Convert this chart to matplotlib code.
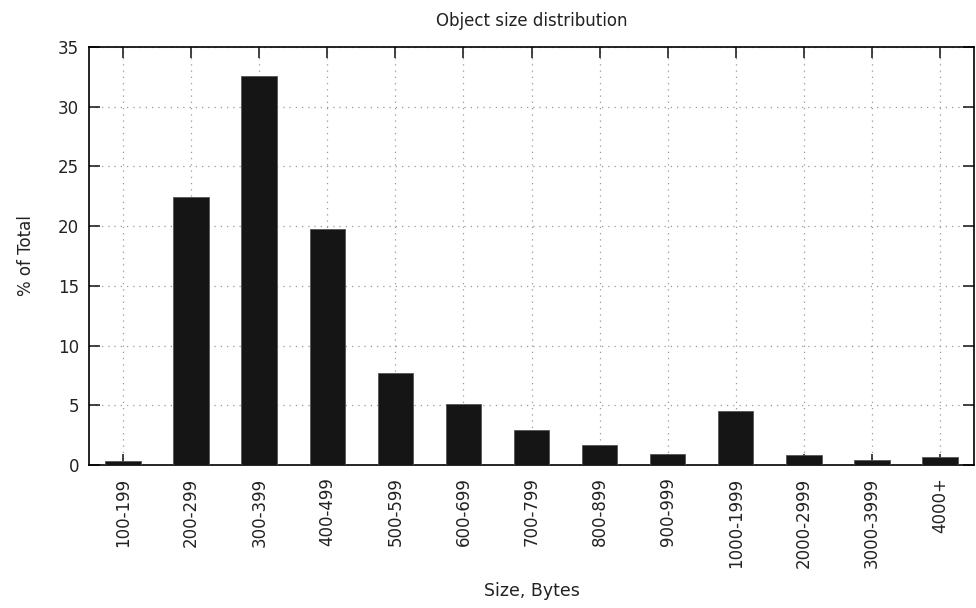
import numpy as np
import matplotlib
matplotlib.use("Agg")
from matplotlib import pyplot as plt

# size buckets and their share of all objects
categories = ["100-199", "200-299", "300-399", "400-499", "500-599", "600-699",
              "700-799", "800-899", "900-999", "1000-1999", "2000-2999",
              "3000-3999", "4000+"]
percent = [0.33, 22.4, 32.6, 19.8, 7.7, 5.1, 2.96, 1.65, 0.92, 4.52, 0.84, 0.39, 0.64]
y_ticks = [0, 5, 10, 15, 20, 25, 30, 35]


def main():
    fig = plt.figure(figsize=(9.76, 6.08), dpi=100)
    ax = fig.add_axes([89 / 976, 143 / 608, 885 / 976, 418 / 608])

    x = np.arange(len(categories))
    ax.bar(x, percent, width=0.52, color="#151515", edgecolor="#555555",
           linewidth=0.6, zorder=3)

    ax.set_xlim(-0.5, len(categories) - 0.5)
    ax.set_ylim(0, 35)
    ax.set_yticks(y_ticks)
    ax.set_xticks(x)
    ax.set_xticklabels(categories, rotation=90, fontsize=12)
    ax.tick_params(axis="y", labelsize=12)
    ax.tick_params(direction="in", top=True, right=True, length=8, width=1.2,
                   colors="#222222", pad=9)
    ax.tick_params(axis="y", pad=7)

    ax.grid(True, linestyle=(0, (1, 4)), color="#999999", linewidth=0.9, zorder=0)
    for spine in ax.spines.values():
        spine.set_linewidth(1.2)

    ax.set_title("Object size distribution", fontsize=12, pad=15, color="#222222")
    ax.set_xlabel("Size, Bytes", fontsize=12.5, labelpad=10, color="#222222")
    ax.set_ylabel("% of Total", fontsize=12, labelpad=17, color="#222222")

    fig.savefig("out.png", dpi=100)


if __name__ == "__main__":
    main()
